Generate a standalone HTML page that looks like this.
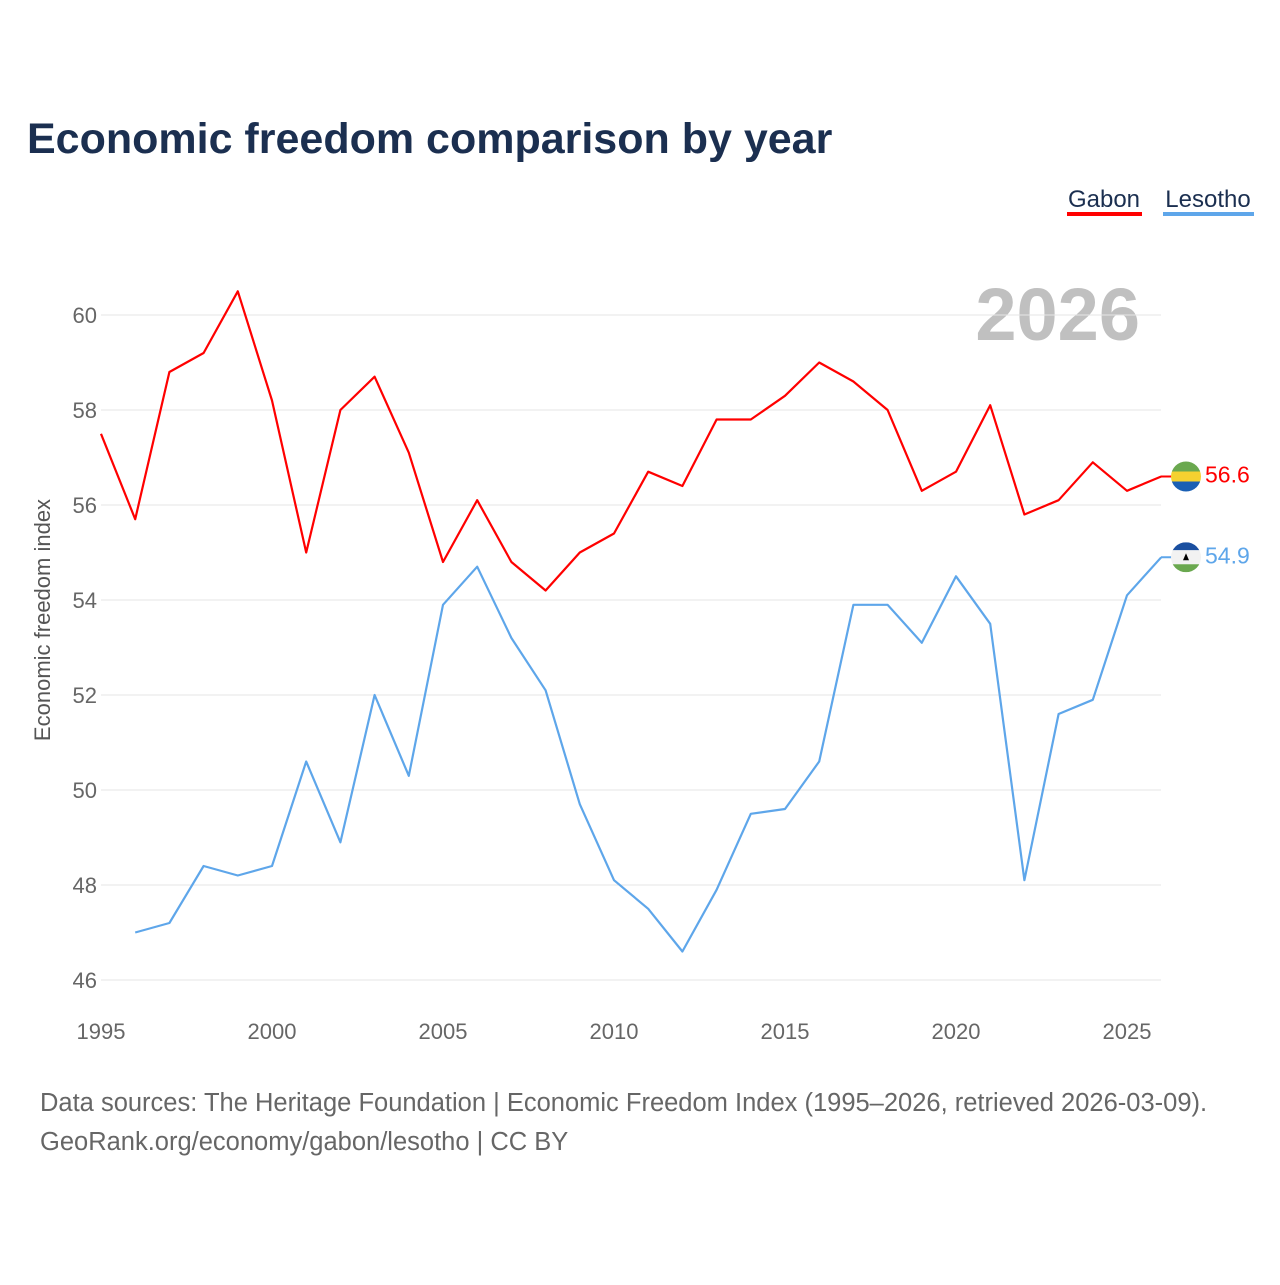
<!DOCTYPE html>
<html><head><meta charset="utf-8"><style>
body{margin:0;background:#fff;width:1280px;height:1280px;overflow:hidden;font-family:"Liberation Sans",sans-serif}
</style></head><body>
<svg id="chart" width="1280" height="1280" xmlns="http://www.w3.org/2000/svg">
<text x="27" y="153" font-size="43" font-weight="bold" fill="#1b2f50">Economic freedom comparison by year</text>
<g><text x="1104" y="207" font-size="24" fill="#1b2f50" text-anchor="middle">Gabon</text><rect x="1067" y="212" width="75" height="4" fill="#ff0000"/></g>
<g><text x="1208" y="207" font-size="24" fill="#1b2f50" text-anchor="middle">Lesotho</text><rect x="1163" y="212" width="91" height="4" fill="#5ea6ea"/></g>
<text x="1140" y="340" font-size="74" font-weight="bold" fill="#c0c0c0" text-anchor="end">2026</text>
<text transform="translate(50,620) rotate(-90)" font-size="22" fill="#555" text-anchor="middle">Economic freedom index</text>
<g id="grid"></g><g id="series"></g>
<text x="40" y="1111" font-size="25.5" fill="#666">Data sources: The Heritage Foundation | Economic Freedom Index (1995–2026, retrieved 2026-03-09).</text>
<text x="40" y="1150" font-size="25.5" fill="#666">GeoRank.org/economy/gabon/lesotho | CC BY</text>
</svg>
<script>
const years=[];for(let y=1995;y<=2026;y++)years.push(y);
const gabon=[57.5,55.7,58.8,59.2,60.5,58.2,55.0,58.0,58.7,57.1,54.8,56.1,54.8,54.2,55.0,55.4,56.7,56.4,57.8,57.8,58.3,59.0,58.6,58.0,56.3,56.7,58.1,55.8,56.1,56.9,56.3,56.6];
const lesotho=[null,47.0,47.2,48.4,48.2,48.4,50.6,48.9,52.0,50.3,53.9,54.7,53.2,52.1,49.7,48.1,47.5,46.6,47.9,49.5,49.6,50.6,53.9,53.9,53.1,54.5,53.5,48.1,51.6,51.9,54.1,54.9];
const yTicks=[46,48,50,52,54,56,58,60];
const xTicks=[1995,2000,2005,2010,2015,2020,2025];
const NS="http://www.w3.org/2000/svg";
const x=v=>101+(v-1995)*34.2;
const y=v=>315+(60-v)*47.5;
function mk(tag,attrs,parent,txt){const e=document.createElementNS(NS,tag);for(const k in attrs)e.setAttribute(k,attrs[k]);if(txt!==undefined)e.textContent=txt;parent.appendChild(e);return e;}
const grid=document.getElementById('grid'),ser=document.getElementById('series');
yTicks.forEach(t=>{
 const l=mk('line',{x1:101,x2:1161,y1:y(t),y2:y(t),stroke:'#e6e6e6','stroke-width':1},grid);
 
 
 const tx=mk('text',{x:97,y:y(t)+8,'font-size':22,fill:'#666','text-anchor':'end'},grid,t);
 
 
});
xTicks.forEach(t=>{
 const tx=mk('text',{x:x(t),y:1039,'font-size':22,fill:'#666','text-anchor':'middle'},grid,t);
 
 
});
function line(vals,color,name){
 let d='';vals.forEach((v,i)=>{if(v==null)return;d+=(d?'L':'M')+x(years[i]).toFixed(1)+','+y(v).toFixed(1);});
 const p=mk('path',{d:d,fill:'none',stroke:color,'stroke-width':2.2,'stroke-linejoin':'round'},ser);
 
 
 const last=vals[vals.length-1];const ly=y(last);
 const g=mk('g',{},ser);
 
 
 mk('line',{x1:1161,x2:1172,y1:ly,y2:ly,stroke:color,'stroke-width':2},g);
 mk('text',{x:1205,y:ly+6,'font-size':23,fill:color},g,last.toFixed(1));
 return ly;
}
const gy=line(gabon,'#ff0000','gabon');
const ly=line(lesotho,'#5ea6ea','lesotho');
const fg=mk('g',{},ser);


mk('clipPath',{id:'c1'},fg);mk('circle',{cx:1186,cy:gy,r:15},fg.lastChild);
const g1=mk('g',{'clip-path':'url(#c1)'},fg);
mk('rect',{x:1171,y:gy-15,width:30,height:10,fill:'#6aa84f'},g1);
mk('rect',{x:1171,y:gy-5,width:30,height:10,fill:'#f5d130'},g1);
mk('rect',{x:1171,y:gy+5,width:30,height:10,fill:'#1a5fb4'},g1);
const fl=mk('g',{},ser);


mk('clipPath',{id:'c2'},fl);mk('circle',{cx:1186,cy:ly,r:15},fl.lastChild);
const g2=mk('g',{'clip-path':'url(#c2)'},fl);
mk('rect',{x:1171,y:ly-15,width:30,height:8,fill:'#1a4fa0'},g2);
mk('rect',{x:1171,y:ly-7,width:30,height:14,fill:'#f2f2f2'},g2);
mk('rect',{x:1171,y:ly+7,width:30,height:8,fill:'#6aa84f'},g2);
mk('path',{d:`M1183,${ly+3}L1186,${ly-4}L1189,${ly+3}Z`,fill:'#000'},g2);
</script>
</body></html>
